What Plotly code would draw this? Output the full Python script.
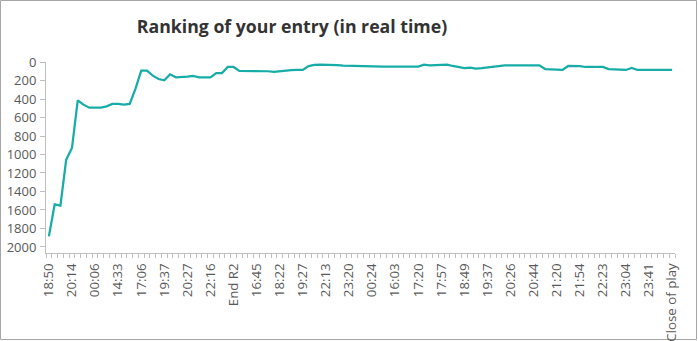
import plotly.graph_objects as go

# Rank snapshots over the competition (lower is better), one per update
ranks = [
    1885, 1540, 1553, 1056, 930, 414, 461, 494, 494, 494,
    480, 454, 454, 461, 454, 290, 94, 94, 148, 184,
    198, 133, 166, 166, 159, 151, 166, 166, 166, 119,
    119, 54, 54, 97, 97, 97, 105, 105, 100, 108,
    100, 92, 88, 86, 86, 45, 32, 29, 29, 29,
    34, 38, 40, 40, 40, 50, 50, 50, 50, 50,
    50, 50, 50, 50, 50, 29, 36, 34, 30, 29,
    43, 58, 65, 60, 72, 66, 58, 47, 36, 36,
    36, 36, 36, 36, 36, 36, 76, 78, 83, 86,
    43, 43, 45, 54, 54, 54, 54, 76, 80, 86,
    86, 65, 86, 86, 86, 86, 86, 86, 86,
]

# Labels shown on the category axis (every fourth update)
tick_labels = [
    "18:50", "20:14", "00:06", "14:33", "17:06", "19:37", "20:27", "22:16",
    "End R2", "16:45", "18:22", "19:27", "22:13", "23:20", "00:24", "16:03",
    "17:20", "17:57", "18:49", "19:37", "20:26", "20:44", "21:20", "21:54",
    "22:23", "23:04", "23:41", "Close of play",
]
label_step = 4
rank_ticks = list(range(0, 2001, 200))

x_idx = list(range(len(ranks)))
tick_pos = [i * label_step for i in range(len(tick_labels))]

W, H = 698, 341
ML, MR, MT, MB = 46, 23, 62, 88
PW, PH = W - ML - MR, H - MT - MB

axis_grey = "#BFBFBF"
text_grey = "#595959"
font_family = "Open Sans, Noto Sans, DejaVu Sans, sans-serif"

fig = go.Figure(
    go.Scatter(
        x=x_idx,
        y=ranks,
        mode="lines",
        line=dict(color="#17ADA6", width=2.25),
        hoverinfo="skip",
    )
)

fig.update_layout(
    width=W,
    height=H,
    margin=dict(l=ML, r=MR, t=MT, b=MB, autoexpand=False),
    paper_bgcolor="white",
    plot_bgcolor="white",
    showlegend=False,
    font=dict(family=font_family, color=text_grey, size=12),
    title=dict(
        text="<b>Ranking of your entry (in real time)</b>",
        font=dict(family=font_family, size=17.7, color="#333333"),
        xref="container",
        yref="container",
        x=292 / W,
        y=1 - 27 / H,
        xanchor="center",
        yanchor="middle",
    ),
)

fig.update_xaxes(
    range=[-0.5, len(ranks) - 0.5],
    automargin=False,
    tickmode="array",
    tickvals=tick_pos,
    ticktext=tick_labels,
    tickangle=-90,
    ticks="",
    ticklabelstandoff=4,
    tickfont=dict(size=13.3, color=text_grey),
    showline=True,
    linecolor=axis_grey,
    linewidth=1,
    showgrid=False,
    zeroline=False,
    minor=dict(
        ticks="outside",
        tick0=0.5,
        dtick=1,
        ticklen=4,
        tickcolor=axis_grey,
        tickwidth=1,
        showgrid=False,
    ),
)

fig.update_yaxes(
    range=[2065, 0],
    automargin=False,
    tickmode="array",
    tickvals=rank_ticks,
    ticktext=[str(v) for v in rank_ticks],
    ticks="outside",
    ticklen=5,
    tickcolor=axis_grey,
    ticklabelstandoff=1,
    tickfont=dict(size=13, color=text_grey),
    showline=True,
    linecolor=axis_grey,
    linewidth=1,
    showgrid=False,
    zeroline=False,
)

# Thin frame around the whole chart area
fig.add_shape(
    type="rect",
    xref="paper",
    yref="paper",
    x0=(0.5 - ML) / PW,
    x1=(W - 1.5 - ML) / PW,
    y0=(H - MB - (H - 1.5)) / PH,
    y1=(H - MB - 0.5) / PH,
    line=dict(color="#A6A6A6", width=1),
    layer="below",
)

fig.write_html("out.html")
